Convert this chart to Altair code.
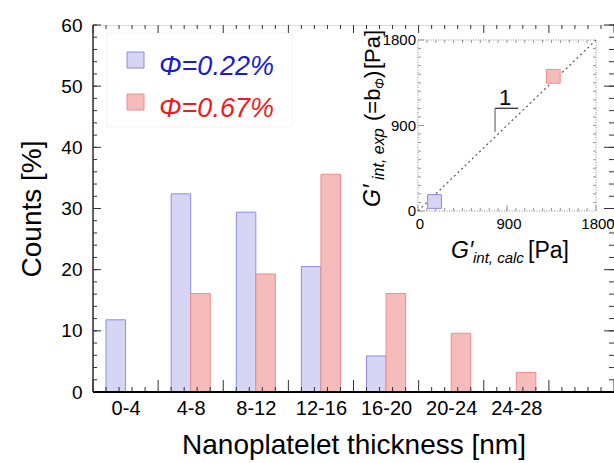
import altair as alt
import pandas as pd

# ---------------- data ----------------
categories = ["0-4", "4-8", "8-12", "12-16", "16-20", "20-24", "24-28"]
phi_022 = [11.8, 32.4, 29.4, 20.5, 5.9, 0.0, 0.0]
phi_067 = [0.0, 16.1, 19.3, 35.6, 16.1, 9.6, 3.2]
series_labels = ["Φ=0.22%", "Φ=0.67%"]

y_major_ticks = [0, 10, 20, 30, 40, 50, 60]
y_minor_ticks = [0, 2, 4, 6, 8, 10, 12, 14, 16, 18, 20, 22, 24, 26, 28, 30,
                 32, 34, 36, 38, 40, 42, 44, 46, 48, 50, 52, 54, 56, 58, 60]
x_major_ticks = [0, 4, 8, 12, 16, 20, 24, 28, 32]
x_minor_ticks = [0.8, 1.6, 2.4, 3.2, 4.8, 5.6, 6.4, 7.2, 8.8, 9.6, 10.4, 11.2,
                 12.8, 13.6, 14.4, 15.2, 16.8, 17.6, 18.4, 19.2, 20.8, 21.6,
                 22.4, 23.2, 24.8, 25.6, 26.4, 27.2, 28.8, 29.6, 30.4, 31.2]

# inset: G'int,calc vs G'int,exp [Pa]
inset_calc = [167, 1368]
inset_exp = [100, 1418]
inset_ticks = [0, 900, 1800]
inset_minor = [90 * k for k in range(1, 20)]
diag_x = [0, 1800]
diag_y = [0, 1800]
slope_h_x = [779, 1014]
slope_h_y = 1081
slope_v_y = [835, 1081]
slope_label_pos = [880, 1118]

# ---------------- layout ----------------
W, H = 521, 367
OX, OY = 93, 25
def px(x):
    return x - OX
def py(y):
    return y - OY

FONT = "Liberation Sans, Arial, sans-serif"
BLUE_FILL, BLUE_EDGE = "#d6d6f4", "#8c8ce0"
RED_FILL, RED_EDGE = "#f6bcbc", "#ee8c8c"
BLUE_TXT, RED_TXT = "#1a1ad2", "#ee1c1c"

rows = []
for i, c in enumerate(categories):
    for s, vals, off in ((series_labels[0], phi_022, 0.8), (series_labels[1], phi_067, 2.0)):
        v = vals[i]
        if v > 0:
            rows.append(dict(cat=c, series=s, value=v, base=0,
                             x0=4 * i + off, x1=4 * i + off + 1.2))
bar_df = pd.DataFrame(rows)

xscale = alt.Scale(domain=[0, 32], nice=False, zero=False)
yscale = alt.Scale(domain=[0, 60], nice=False, zero=False)
fill_scale = alt.Scale(domain=series_labels, range=[BLUE_FILL, RED_FILL])
edge_scale = alt.Scale(domain=series_labels, range=[BLUE_EDGE, RED_EDGE])

label_expr = "[" + ",".join("'%s'" % c for c in categories) + "][floor(datum.value/4)]"

X_AX = alt.Axis(
    values=[4 * i + 2 for i in range(len(categories))], labelExpr=label_expr,
    labelFont=FONT, labelFontSize=20, labelColor="black", labelPadding=6,
    tickSize=0, domain=False, grid=False,
    title="Nanoplatelet thickness [nm]", titleFont=FONT, titleFontSize=28,
    titleFontWeight="normal", titleColor="black", titlePadding=13)
Y_AX = alt.Axis(
    values=y_major_ticks, labelFont=FONT, labelFontSize=19, labelColor="black",
    labelPadding=11, tickSize=0, domain=False, grid=False,
    title="Counts [%]", titleFont=FONT, titleFontSize=28,
    titleFontWeight="normal", titleColor="black", titlePadding=14)

bars = alt.Chart(bar_df).mark_rect(strokeWidth=1).encode(
    x=alt.X("x0:Q", scale=xscale, axis=X_AX),
    x2="x1:Q",
    y=alt.Y("value:Q", scale=yscale, axis=Y_AX),
    y2="base:Q",
    fill=alt.Color("series:N", scale=fill_scale, legend=None),
    stroke=alt.Stroke("series:N", scale=edge_scale, legend=None),
)

ymaj = pd.DataFrame({"v": y_major_ticks})
ymin = pd.DataFrame({"v": y_minor_ticks})
xmaj = pd.DataFrame({"v": x_major_ticks})
xmin = pd.DataFrame({"v": x_minor_ticks})

def yrule(df, a, b):
    return alt.Chart(df).mark_rule(color="#333", strokeWidth=1).encode(
        y=alt.Y("v:Q", scale=yscale, axis=Y_AX), x=alt.value(a), x2=alt.value(b))

def xrule(df, a, b):
    return alt.Chart(df).mark_rule(color="#333", strokeWidth=1).encode(
        x=alt.X("v:Q", scale=xscale, axis=X_AX), y=alt.value(a), y2=alt.value(b))

one = pd.DataFrame({"k": [0]})
left_line = alt.Chart(one).mark_rule(color="#333", strokeWidth=1.5).encode(
    x=alt.value(0), y=alt.value(0), y2=alt.value(H))
bottom_line = alt.Chart(one).mark_rule(color="black", strokeWidth=2).encode(
    x=alt.value(0), x2=alt.value(W), y=alt.value(H))

ticks = [
    yrule(ymin, 0, 4), yrule(ymaj, 0, 8),
    yrule(ymin, W - 5, W), yrule(ymaj, W - 10, W),
    xrule(xmin, H, H - 5), xrule(xmaj, H, H - 12),
    xrule(xmin, 0, 4), xrule(xmaj, 0, 8),
]

# legend (drawn as annotation)
legend_box = alt.Chart(one).mark_rect(fill="white", stroke="#f3f3f3", strokeWidth=1).encode(
    x=alt.value(px(107)), x2=alt.value(px(292)), y=alt.value(py(33)), y2=alt.value(py(127)))
leg_blue = alt.Chart(one).mark_rect(fill=BLUE_FILL, stroke=BLUE_EDGE, strokeWidth=1).encode(
    x=alt.value(px(127)), x2=alt.value(px(144)), y=alt.value(py(52)), y2=alt.value(py(68)))
leg_red = alt.Chart(one).mark_rect(fill=RED_FILL, stroke=RED_EDGE, strokeWidth=1).encode(
    x=alt.value(px(127)), x2=alt.value(px(144)), y=alt.value(py(94)), y2=alt.value(py(110)))
leg_t1 = alt.Chart(one).mark_text(align="left", baseline="alphabetic", font=FONT,
                                  fontSize=27, fontStyle="italic", color=BLUE_TXT,
                                  text=series_labels[0]).encode(
    x=alt.value(px(159)), y=alt.value(py(75)))
leg_t2 = alt.Chart(one).mark_text(align="left", baseline="alphabetic", font=FONT,
                                  fontSize=27, fontStyle="italic", color=RED_TXT,
                                  text=series_labels[1]).encode(
    x=alt.value(px(159)), y=alt.value(py(117)))

main = alt.layer(legend_box, bars, *ticks, left_line, bottom_line,
                 leg_blue, leg_red, leg_t1, leg_t2)

# ---------------- inset ----------------
ixs = alt.Scale(domain=[0, 1800], range=[px(418), px(596)], nice=False, zero=False)
iys = alt.Scale(domain=[0, 1800], range=[py(211), py(40)], nice=False, zero=False)

frame_df = pd.DataFrame({"x0": [0], "x1": [1800], "y0": [0], "y1": [1800]})
frame = alt.Chart(frame_df).mark_rect(fill="white", stroke="#8a8a8a", strokeWidth=1,
                                      strokeDash=[1, 1.5]).encode(
    x=alt.X("x0:Q", scale=ixs, axis=None), x2="x1:Q",
    y=alt.Y("y0:Q", scale=iys, axis=None), y2="y1:Q")

imin = pd.DataFrame({"v": inset_minor})
imaj = pd.DataFrame({"v": inset_ticks})
def ixr(df, a, b):
    return alt.Chart(df).mark_rule(color="#999", strokeWidth=1).encode(
        x=alt.X("v:Q", scale=ixs, axis=None), y=alt.value(a), y2=alt.value(b))
def iyr(df, a, b):
    return alt.Chart(df).mark_rule(color="#999", strokeWidth=1).encode(
        y=alt.Y("v:Q", scale=iys, axis=None), x=alt.value(a), x2=alt.value(b))

iticks = [
    ixr(imin, py(211), py(208)), ixr(imin, py(40), py(43)),
    iyr(imin, px(418), px(421)), iyr(imin, px(596), px(593)),
    ixr(imaj, py(211), py(205)), iyr(imaj, px(418), px(424)),
]

diag_df = pd.DataFrame({"x": diag_x, "y": diag_y})
diag = alt.Chart(diag_df).mark_line(color="#555", strokeWidth=1.2, strokeDash=[2, 3]).encode(
    x=alt.X("x:Q", scale=ixs, axis=None), y=alt.Y("y:Q", scale=iys, axis=None))

sq_df = pd.DataFrame({"series": series_labels, "calc": inset_calc, "exp": inset_exp})
squares = alt.Chart(sq_df).mark_square(size=190, opacity=1, strokeWidth=1).encode(
    x=alt.X("calc:Q", scale=ixs, axis=None), y=alt.Y("exp:Q", scale=iys, axis=None),
    fill=alt.Color("series:N", scale=fill_scale, legend=None),
    stroke=alt.Stroke("series:N", scale=edge_scale, legend=None))

sh_df = pd.DataFrame({"x0": [slope_h_x[0]], "x1": [slope_h_x[1]], "y": [slope_h_y]})
slope_h = alt.Chart(sh_df).mark_rule(color="#333", strokeWidth=1.3).encode(
    x=alt.X("x0:Q", scale=ixs, axis=None), x2="x1:Q", y=alt.Y("y:Q", scale=iys, axis=None))
sv_df = pd.DataFrame({"x": [slope_h_x[0]], "y0": [slope_v_y[0]], "y1": [slope_v_y[1]]})
slope_v = alt.Chart(sv_df).mark_rule(color="#777", strokeWidth=1.3).encode(
    x=alt.X("x:Q", scale=ixs, axis=None), y=alt.Y("y0:Q", scale=iys, axis=None), y2="y1:Q")
sl_df = pd.DataFrame({"x": [slope_label_pos[0]], "y": [slope_label_pos[1]], "t": ["1"]})
slope_lbl = alt.Chart(sl_df).mark_text(font=FONT, fontSize=22, color="black",
                                       baseline="alphabetic", align="center").encode(
    x=alt.X("x:Q", scale=ixs, axis=None), y=alt.Y("y:Q", scale=iys, axis=None), text="t:N")

lab_df = pd.DataFrame({"v": inset_ticks, "t": [str(v) for v in inset_ticks]})
iylabels = alt.Chart(lab_df).mark_text(font=FONT, fontSize=15, color="black",
                                       align="right", baseline="middle").encode(
    y=alt.Y("v:Q", scale=iys, axis=None), x=alt.value(px(416)), text="t:N")
ixlabels = alt.Chart(lab_df).mark_text(font=FONT, fontSize=15, color="black",
                                       align="center", baseline="middle", dx=2).encode(
    x=alt.X("v:Q", scale=ixs, axis=None), y=alt.value(py(224)), text="t:N")

def ann(text, x, y, size, italic=False, angle=0):
    kw = dict(align="left", baseline="alphabetic", font=FONT, fontSize=size,
              color="black", text=text)
    if italic:
        kw["fontStyle"] = "italic"
    if angle:
        kw["angle"] = angle
    return alt.Chart(one).mark_text(**kw).encode(x=alt.value(px(x)), y=alt.value(py(y)))

ititles = [
    ann("G′", 451, 258, 23, True),
    ann("int, calc", 473, 263, 15, True),
    ann("[Pa]", 528, 258, 23),
    ann("G′", 380, 207, 23, True, 270),
    ann("int, exp", 384, 180, 16, True, 270),
    ann("(=b", 380, 121, 22, False, 270),
    ann("Φ", 384, 89, 13, True, 270),
    ann(")", 380, 78, 22, False, 270),
    ann("[Pa]", 380, 69, 22, False, 270),
]

inset = alt.layer(frame, *iticks, diag, squares, slope_h, slope_v, slope_lbl,
                  iylabels, ixlabels, *ititles)

chart = alt.layer(main, inset).resolve_scale(
    x="independent", y="independent"
).properties(
    width=W, height=H,
    padding={"left": OX, "top": OY, "right": 0, "bottom": 463 - OY - H},
    autosize="none",
).configure_view(stroke="#444", strokeWidth=1).configure(background="white")

chart.save("out.html", embed_options={"renderer": "svg", "actions": False})
